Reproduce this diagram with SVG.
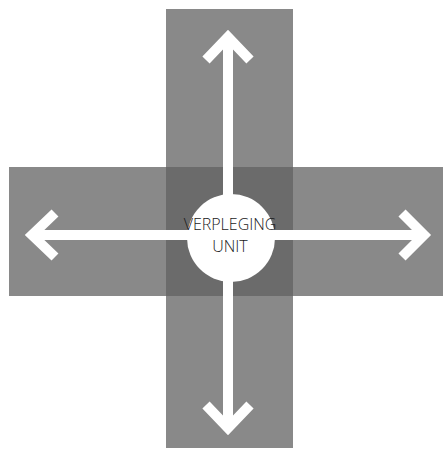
<svg xmlns="http://www.w3.org/2000/svg" width="443" height="451" viewBox="0 0 443 451">
<style>
.bar{fill:#898989}
.ov{fill:#6b6b6b}
.ln{stroke:#fff;stroke-width:10;fill:none}
.hd{stroke:#fff;stroke-width:10;fill:none;stroke-linejoin:miter;stroke-miterlimit:10}
.lbl{font-family:"Open Sans","DejaVu Sans",sans-serif;font-size:16px;fill:#1a1a1a;text-anchor:middle;font-weight:300}
</style>
<rect width="443" height="451" fill="#fff"/>
<g id="bars">
<rect class="bar" x="166" y="9" width="127" height="439"/>
<rect class="bar" x="9" y="167" width="434" height="129"/>
<rect class="ov" x="166" y="167" width="127" height="129"/>
</g>
<g id="connectors">
<line class="ln" x1="228" y1="40" x2="228" y2="426"/>
<line class="ln" x1="35" y1="235" x2="421" y2="235"/>
<polyline class="hd" points="206,60 228,37 250,60"/>
<polyline class="hd" points="206,405 228,428 250,405"/>
<polyline class="hd" points="55,213 32,235 55,257"/>
<polyline class="hd" points="402,213 424,235 402,257"/>
</g>
<g id="center">
<circle cx="231" cy="238" r="44" fill="#fff"/>
<text class="lbl" x="230" y="230">VERPLEGING</text>
<text class="lbl" x="230" y="252">UNIT</text>
</g>
</svg>
